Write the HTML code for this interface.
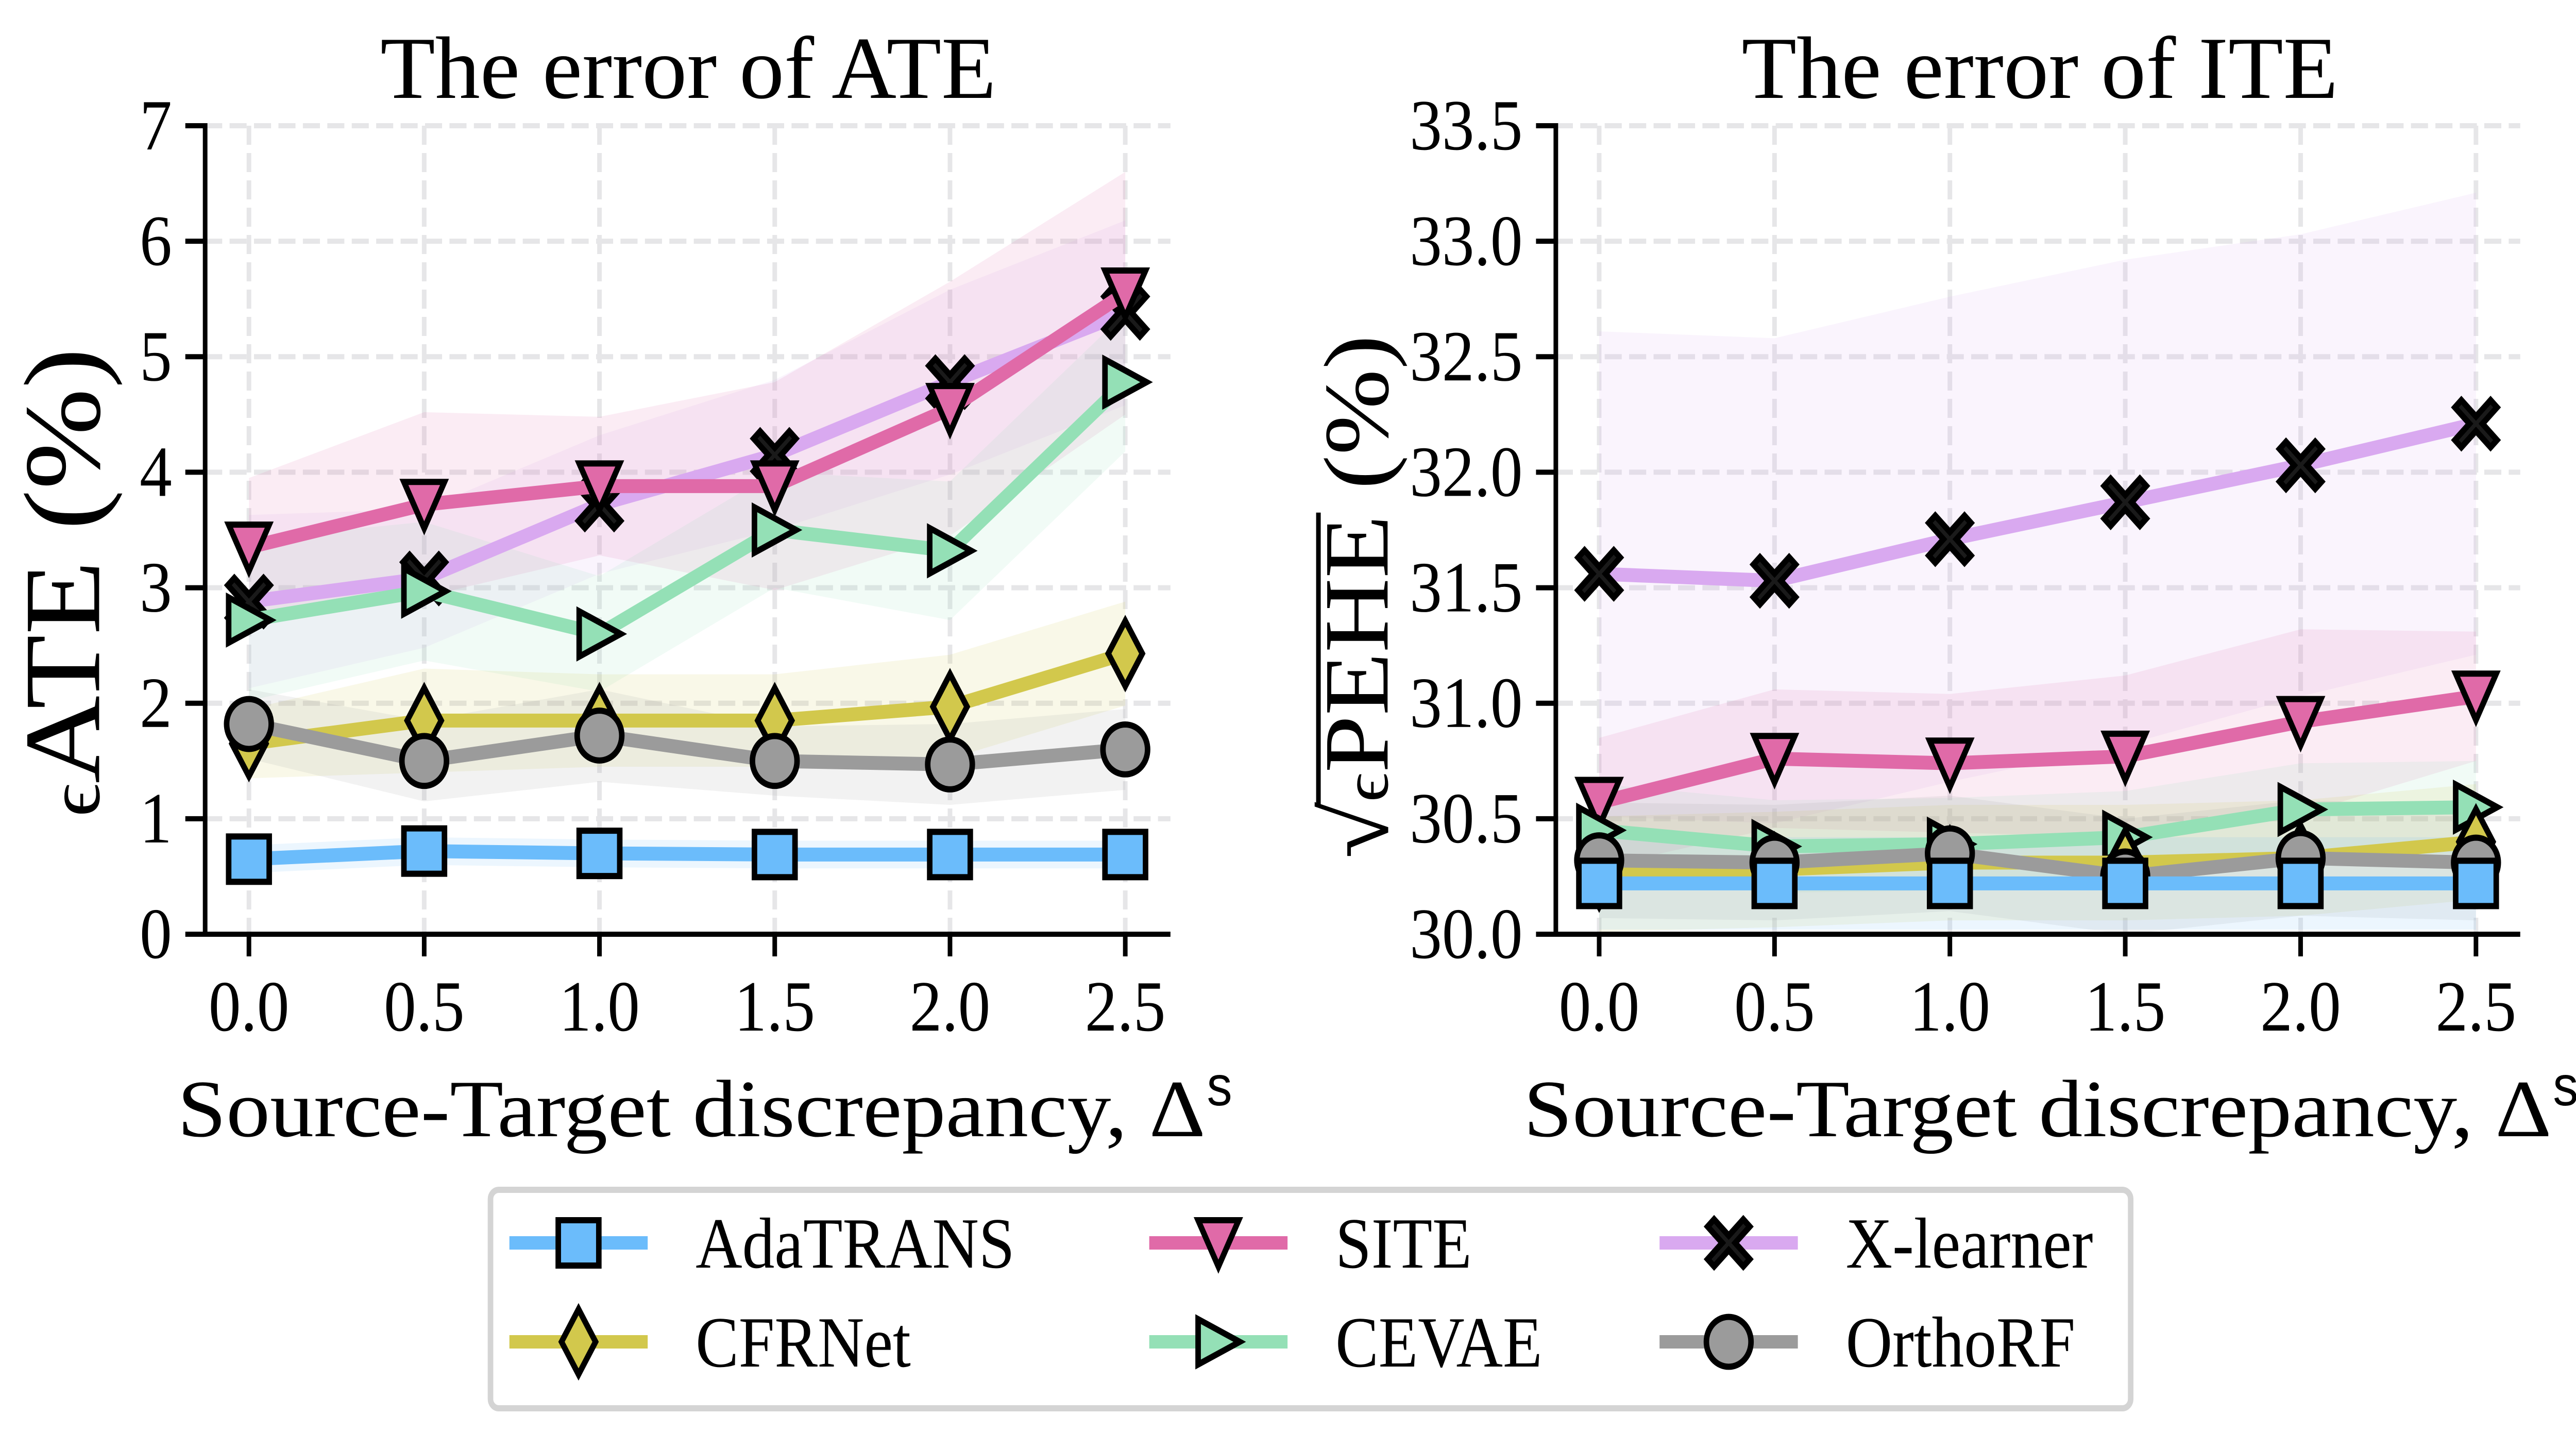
<!DOCTYPE html>
<html><head><meta charset="utf-8"><style>
html,body{margin:0;padding:0;background:#fff;width:100%;height:100%;overflow:hidden;}
svg{display:block;font-family:"Liberation Serif",serif;overflow:hidden;width:100vw;height:100vh;}
</style></head><body>
<svg id="chart" width="100%" height="100%" viewBox="0 0 5588 2779" preserveAspectRatio="none" xmlns="http://www.w3.org/2000/svg">
<rect x="0" y="0" width="5588" height="2779" fill="#fff"/>
<g id="left"></g>
<g id="right"></g>
<g id="legend"></g>
</svg>
<script>
const xs = [0.0, 0.5, 1.0, 1.5, 2.0, 2.5];
const xTickLabels = ["0.0","0.5","1.0","1.5","2.0","2.5"];
const ateTicks = [0,1,2,3,4,5,6,7];
const iteTicks = [30.0,30.5,31.0,31.5,32.0,32.5,33.0,33.5];
const seriesNames = ["AdaTRANS","CFRNet","SITE","CEVAE","X-learner","OrthoRF"];
// ATE means
const ateAda = [0.65,0.72,0.70,0.69,0.69,0.69];
const ateCfr = [1.65,1.85,1.85,1.85,1.97,2.43];
const ateSite = [3.35,3.72,3.88,3.88,4.55,5.55];
const ateCevae = [2.72,2.97,2.60,3.50,3.32,4.78];
const ateX = [2.88,3.08,3.72,4.15,4.78,5.38];
const ateOrtho = [1.82,1.50,1.72,1.50,1.47,1.60];
// ATE std
const ateAdaSd = [0.12,0.12,0.12,0.12,0.12,0.12];
const ateCfrSd = [0.3,0.45,0.4,0.4,0.45,0.45];
const ateSiteSd = [0.6,0.8,0.6,0.9,1.1,1.05];
const ateCevaeSd = [0.7,0.6,0.5,0.5,0.6,0.6];
const ateXSd = [0.75,0.6,0.6,0.65,0.8,0.8];
const ateOrthoSd = [0.3,0.35,0.4,0.3,0.35,0.35];
// ITE means
const iteAda = [30.22,30.22,30.22,30.22,30.22,30.22];
const iteCfr = [30.26,30.28,30.31,30.31,30.33,30.40];
const iteSite = [30.57,30.76,30.74,30.77,30.92,31.03];
const iteCevae = [30.45,30.38,30.39,30.42,30.54,30.55];
const iteX = [31.56,31.53,31.71,31.87,32.03,32.21];
const iteOrtho = [30.32,30.31,30.35,30.25,30.33,30.31];
// ITE std
const iteAdaSd = [0.2,0.2,0.2,0.2,0.2,0.2];
const iteCfrSd = [0.25,0.25,0.25,0.25,0.25,0.25];
const iteSiteSd = [0.28,0.3,0.3,0.35,0.4,0.28];
const iteCevaeSd = [0.2,0.2,0.2,0.2,0.2,0.2];
const iteXSd = [1.05,1.05,1.05,1.05,1.0,1.0];
const iteOrthoSd = [0.25,0.25,0.25,0.25,0.25,0.25];

const NS="http://www.w3.org/2000/svg";
const colors={"AdaTRANS":"#6bbcfb","CFRNet":"#d2c84c","SITE":"#e06aa8","CEVAE":"#94e0b6","X-learner":"#d9a9f0","OrthoRF":"#9b9b9b"};
const markers={"AdaTRANS":"square","CFRNet":"diamond","SITE":"tridown","CEVAE":"triright","X-learner":"x","OrthoRF":"circle"};
function el(tag,attrs,parent){const e=document.createElementNS(NS,tag);for(const k in attrs)e.setAttribute(k,attrs[k]);parent.appendChild(e);return e;}

function marker(g,type,cx,cy,color,s){
  let e;
  if(type==="square"){e=el("rect",{x:cx-s*0.5,y:cy-s*0.5,width:s,height:s},g);}
  else if(type==="circle"){e=el("circle",{cx:cx,cy:cy,r:s*0.55},g);}
  else if(type==="diamond"){const a=s*0.42,b=s*0.72;e=el("polygon",{points:`${cx},${cy-b} ${cx+a},${cy} ${cx},${cy+b} ${cx-a},${cy}`},g);}
  else if(type==="tridown"){const a=s*0.5;e=el("polygon",{points:`${cx-a},${cy-a} ${cx+a},${cy-a} ${cx},${cy+a*1.05}`},g);}
  else if(type==="triright"){const a=s*0.5;e=el("polygon",{points:`${cx-a},${cy-a} ${cx+a*1.05},${cy} ${cx-a},${cy+a}`},g);}
  else if(type==="x"){const a=s*0.36,w=s*0.16;
    const p=[[-a,-a-w],[0,-w],[a,-a-w],[a+w,-a],[w,0],[a+w,a],[a,a+w],[0,w],[-a,a+w],[-a-w,a],[-w,0],[-a-w,-a]];
    e=el("polygon",{points:p.map(q=>`${cx+q[0]},${cy+q[1]}`).join(" ")},g);}
  e.setAttribute("fill",type==="x"?"#1a1a1a":color);e.setAttribute("stroke","#000");e.setAttribute("stroke-width",12);e.setAttribute("stroke-linejoin","miter");
  return e;
}

function panel(gid,cfg){
  const g=document.getElementById(gid);
  const sx=v=>cfg.x0+(v-xs[0])/(xs[xs.length-1]-xs[0])*(cfg.x1-cfg.x0);
  const sy=v=>cfg.yB-(v-cfg.ymin)/(cfg.ymax-cfg.ymin)*(cfg.yB-cfg.yT);
  const defs=el("defs",{},g);
  const cp=el("clipPath",{id:"clip-"+gid},defs);
  el("rect",{x:cfg.spL,y:cfg.yT-20,width:cfg.spR-cfg.spL,height:cfg.yB-cfg.yT+20},cp);
  const grid=el("g",{stroke:"#e6e6e8","stroke-width":10,"stroke-dasharray":"37,16",fill:"none"},g);
  
  
  cfg.ticks.forEach(t=>el("line",{x1:cfg.spL,x2:cfg.spR,y1:sy(t),y2:sy(t)},grid));
  xs.forEach(v=>el("line",{x1:sx(v),x2:sx(v),y1:cfg.yT,y2:cfg.yB},grid));
  cfg.series.forEach(s=>{
    const up=s.m.map((v,i)=>[sx(xs[i]),sy(v+s.sd[i])]);
    const lo=s.m.map((v,i)=>[sx(xs[i]),sy(Math.max(cfg.ymin-0.2,v-s.sd[i]))]).reverse();
    const b=el("polygon",{points:up.concat(lo).map(p=>p.join(",")).join(" "),fill:colors[s.name],"fill-opacity":0.13,"clip-path":`url(#clip-${gid})`},g);
    
    
  });
  cfg.series.forEach(s=>{
    const sg=el("g",{},g);
    
    
    const l=el("polyline",{points:s.m.map((v,i)=>sx(xs[i])+","+sy(v)).join(" "),fill:"none",stroke:colors[s.name],"stroke-width":27,"stroke-linejoin":"round"},sg);
    
    
    s.m.forEach((v,i)=>{
      const mk=marker(sg,markers[s.name],sx(xs[i]),sy(v),colors[s.name],88);
      
      
    });
  });
  const ax=el("g",{stroke:"#000","stroke-width":10,fill:"none"},g);
  
  
  el("line",{x1:cfg.spL,x2:cfg.spL,y1:cfg.yT-5,y2:cfg.yB+5},ax);
  el("line",{x1:cfg.spL-5,x2:cfg.spR,y1:cfg.yB,y2:cfg.yB},ax);
  cfg.ticks.forEach((t,i)=>{
    el("line",{x1:cfg.spL-43,x2:cfg.spL,y1:sy(t),y2:sy(t)},ax);
    const tx=el("text",{x:cfg.spL-72,y:sy(t)+46,"text-anchor":"end","font-size":140,fill:"#000",stroke:"none"},g);
    tx.textContent=cfg.tickLabels[i];
    
    
  });
  xs.forEach((v,i)=>{
    el("line",{x1:sx(v),x2:sx(v),y1:cfg.yB,y2:cfg.yB+43},ax);
    const tx=el("text",{x:sx(v),y:2000,"text-anchor":"middle","font-size":140,fill:"#000"},g);
    tx.textContent=xTickLabels[i];
    
    
  });
  const ti=el("text",{x:cfg.titleX,y:190,"text-anchor":"middle","font-size":172,textLength:cfg.titleW,lengthAdjust:"spacingAndGlyphs"},g);
  ti.textContent=cfg.title;
  
  
  const xl=el("text",{x:cfg.xlX-1115,y:2205,"font-size":158,textLength:2230,lengthAdjust:"spacingAndGlyphs"},g);
  xl.textContent='Source-Target discrepancy, Δ';
  
  
  const xs2=el("text",{x:cfg.xlX+1118,y:2145,"font-size":110,"font-family":"Liberation Sans"},g);
  xs2.textContent='s';
  
  
  const yg=el("g",{transform:`translate(${cfg.ylX},${cfg.ylY}) rotate(-90)`},g);
  
  
  const yl=el("text",{x:0,y:0,"text-anchor":"middle","font-size":cfg.ylFs},yg);
  yl.innerHTML=cfg.ylab;
  if(cfg.over){el("line",{x1:-cfg.ylL/2+cfg.over[0]*cfg.ylL,x2:-cfg.ylL/2+cfg.over[1]*cfg.ylL,y1:-150,y2:-150,stroke:"#000","stroke-width":10},yg);}
}

panel("left",{x0:540,x1:2441,spL:445,spR:2539,yT:244,yB:1813,ymin:0,ymax:7,ticks:ateTicks,tickLabels:ateTicks.map(String),
  title:"The error of ATE",titleX:1493,titleW:1336,xlX:1500,ylX:215,ylY:1130,ylFs:236,
  ylab:'<tspan font-size="160">ϵ</tspan>ATE (%)',
  series:[{name:"X-learner",m:ateX,sd:ateXSd},{name:"SITE",m:ateSite,sd:ateSiteSd},{name:"CEVAE",m:ateCevae,sd:ateCevaeSd},{name:"CFRNet",m:ateCfr,sd:ateCfrSd},{name:"OrthoRF",m:ateOrtho,sd:ateOrthoSd},{name:"AdaTRANS",m:ateAda,sd:ateAdaSd}]});
panel("right",{x0:3469,x1:5371,spL:3375,spR:5467,yT:244,yB:1813,ymin:30,ymax:33.5,ticks:iteTicks,tickLabels:iteTicks.map(v=>v.toFixed(1)),
  title:"The error of ITE",titleX:4425,titleW:1294,xlX:4420,ylX:3010,ylY:1158,ylFs:200,ylL:1020,over:[0.105,0.66],
  ylab:'√<tspan font-size="140">ϵ</tspan>PEHE (%)',
  series:[{name:"X-learner",m:iteX,sd:iteXSd},{name:"SITE",m:iteSite,sd:iteSiteSd},{name:"CEVAE",m:iteCevae,sd:iteCevaeSd},{name:"CFRNet",m:iteCfr,sd:iteCfrSd},{name:"OrthoRF",m:iteOrtho,sd:iteOrthoSd},{name:"AdaTRANS",m:iteAda,sd:iteAdaSd}]});

(function(){
  const g=document.getElementById("legend");
  const box=el("rect",{x:1064,y:2309,width:3558,height:424,rx:18,fill:"#fff",stroke:"#d4d4d4","stroke-width":12},g);
  
  
  const order=[["AdaTRANS",0,0],["CFRNet",0,1],["SITE",1,0],["CEVAE",1,1],["X-learner",2,0],["OrthoRF",2,1]];
  const colX=[1105,2493,3600], rowY=[2412,2604];
  order.forEach(o=>{
    const n=o[0],x=colX[o[1]],y=rowY[o[2]];
    const eg=el("g",{},g);
    
    
    el("line",{x1:x,x2:x+300,y1:y,y2:y,stroke:colors[n],"stroke-width":26},eg);
    marker(eg,markers[n],x+150,y,colors[n],88);
    const t=el("text",{x:x+404,y:y+48,"font-size":140},eg);
    t.textContent=n;
  });
})();
</script>
</body></html>
